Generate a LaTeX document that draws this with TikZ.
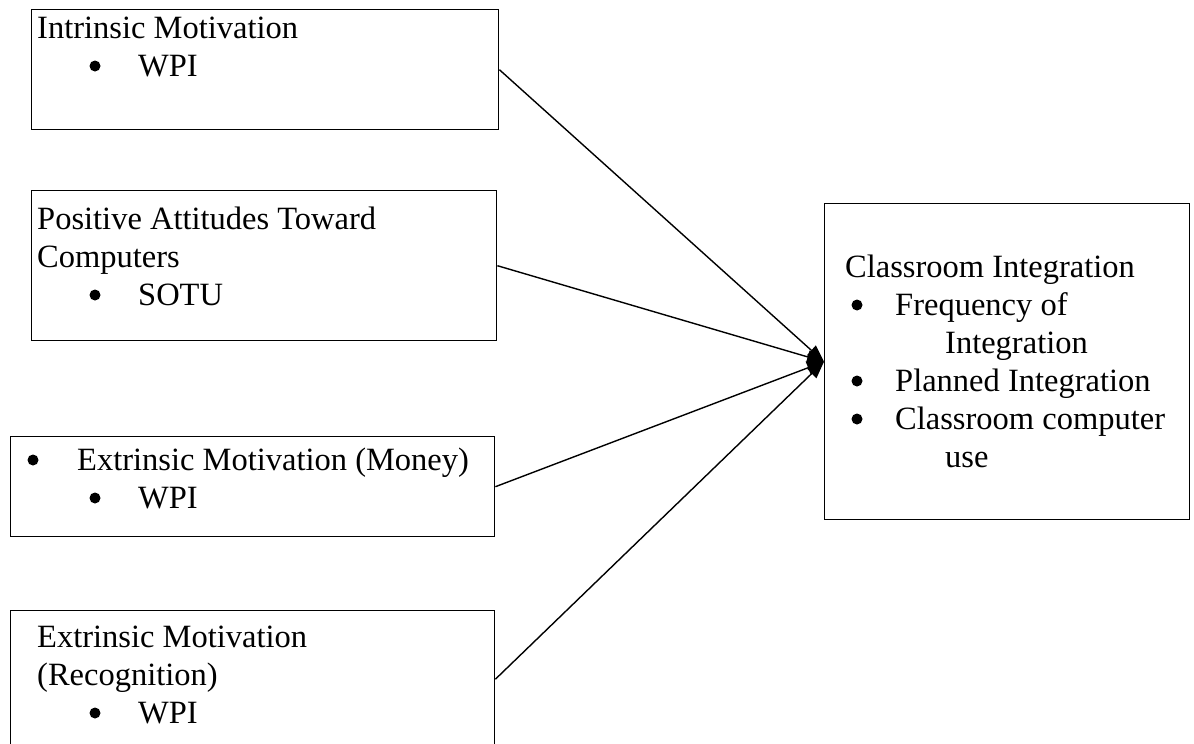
\documentclass[tikz,border=0pt]{standalone}
\usepackage{fontspec}
\setmainfont{Liberation Serif}
\usetikzlibrary{arrows.meta}
\begin{document}
\begin{tikzpicture}[x=1pt,y=-1pt,
  box/.style={draw,line width=1.4pt,rectangle,inner sep=0pt,anchor=north west},
  txt/.style={anchor=base west,inner sep=0pt,font=\fontsize{32.5}{38}\selectfont},
  link/.style={line width=1.4pt,-{Triangle[length=17pt,width=13pt]}},
  dot/.style={fill=black}
  ]
\useasboundingbox (0,0) rectangle (1194,744);
\clip (0,0) rectangle (1194,744);

% boxes
\node[box,minimum width=467pt,minimum height=120pt] (b1) at (31,9) {};
\node[box,minimum width=465pt,minimum height=150pt] (b2) at (31,190) {};
\node[box,minimum width=484pt,minimum height=100pt] (b3) at (10,436) {};
\node[box,minimum width=484pt,minimum height=137pt] (b4) at (10,610) {};
\node[box,minimum width=365pt,minimum height=316pt] (b5) at (824,203) {};

% Intrinsic Motivation
\node[txt] (t1a) at (37,38) {Intrinsic Motivation};
\fill[dot] (95,66) circle (5.5pt);
\node[txt] (t1b) at (138,76) {WPI};

% Positive attitudes
\node[txt] (t2a) at (37,229) {Positive Attitudes Toward};
\node[txt] (t2b) at (37,267) {Computers};
\fill[dot] (95,295) circle (5.5pt);
\node[txt] (t2c) at (138,305) {SOTU};

% Extrinsic (money)
\fill[dot] (33,460) circle (5.5pt);
\node[txt] (t3a) at (77,470) {Extrinsic Motivation (Money)};
\fill[dot] (95,498) circle (5.5pt);
\node[txt] (t3b) at (138,508) {WPI};

% Extrinsic (recognition)
\node[txt] (t4a) at (37,647) {Extrinsic Motivation};
\node[txt] (t4b) at (37,685) {(Recognition)};
\fill[dot] (95,713) circle (5.5pt);
\node[txt] (t4c) at (138,723) {WPI};

% Classroom integration
\node[txt] (t5a) at (845,277) {Classroom Integration};
\fill[dot] (857,305) circle (5.5pt);
\node[txt] (t5b) at (895,315) {Frequency of};
\node[txt] (t5c) at (945,353) {Integration};
\fill[dot] (857,381) circle (5.5pt);
\node[txt] (t5d) at (895,391) {Planned Integration};
\fill[dot] (857,419) circle (5.5pt);
\node[txt] (t5e) at (895,429) {Classroom computer};
\node[txt] (t5f) at (945,467) {use};

% connectors
\draw[link] (b1.east) -- (b5.west);
\draw[link] (b2.east) -- (b5.west);
\draw[link] (b3.east) -- (b5.west);
\draw[link] (b4.east) -- (b5.west);
\end{tikzpicture}
\end{document}
